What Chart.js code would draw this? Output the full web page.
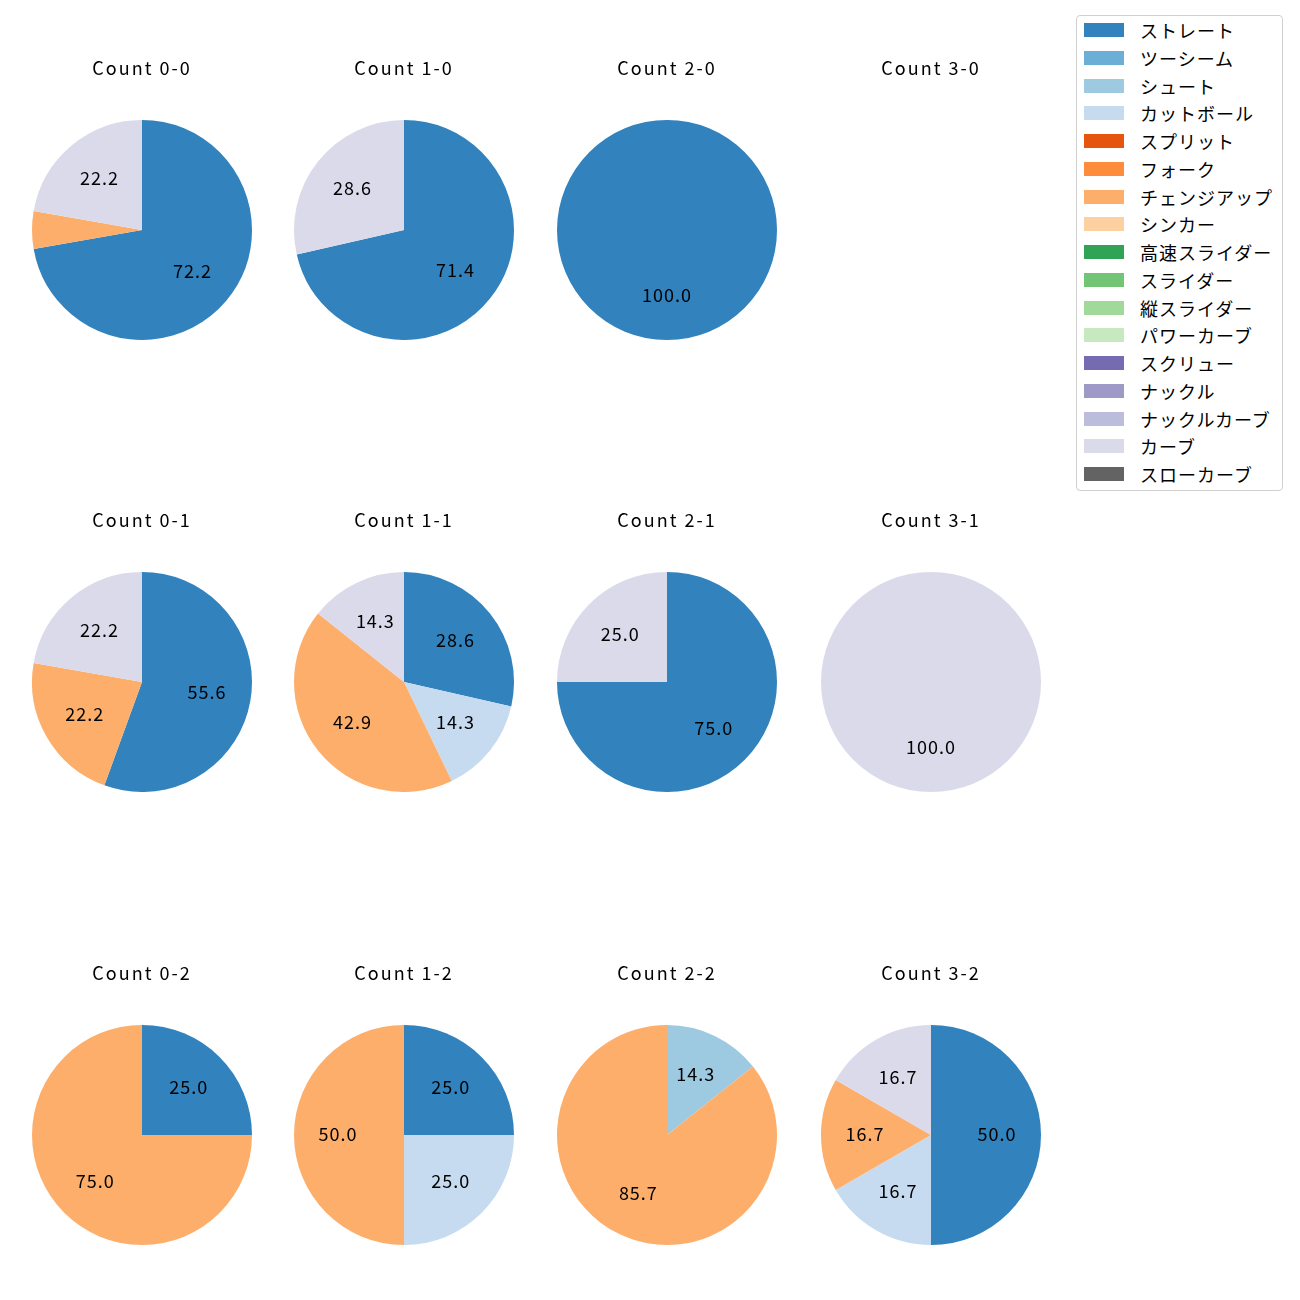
<!DOCTYPE html>
<html>
<head>
<meta charset="utf-8">
<script src="https://cdn.jsdelivr.net/npm/chart.js@4.4.1/dist/chart.umd.min.js"></script>
<style>
  html, body { margin: 0; padding: 0; background: #fff; }
  body { width: 1300px; height: 1300px; position: relative; overflow: hidden;
         font-family: "Noto Sans CJK JP", "Noto Sans", sans-serif; }
  .cell { position: absolute; }
  #legend { position: absolute; left: 1076px; top: 15px; width: 205px; height: 474px;
            border: 1px solid #d0d0d0; border-radius: 4px; background: #fff; }
  .item { position: absolute; left: 0; height: 20px; }
  .patch { position: absolute; left: 7px; width: 40px; height: 14px; }
  .lab { position: absolute; left: 63px; top: -1px; font-size: 18px; line-height: 22px; letter-spacing: 1px; color: #000; white-space: nowrap; }
</style>
</head>
<body>
<div id="legend"></div>
<script>
// ---- data ----
const pitchTypes = ["ストレート","ツーシーム","シュート","カットボール","スプリット","フォーク","チェンジアップ","シンカー","高速スライダー","スライダー","縦スライダー","パワーカーブ","スクリュー","ナックル","ナックルカーブ","カーブ","スローカーブ"];
const pitchColors = ["#3182bd","#6baed6","#9ecae1","#c6dbef","#e6550d","#fd8d3c","#fdae6b","#fdd0a2","#31a354","#74c476","#a1d99b","#c7e9c0","#756bb1","#9e9ac8","#bcbddc","#dadaeb","#636363"];
const countTitles = ["Count 0-0","Count 1-0","Count 2-0","Count 3-0",
                     "Count 0-1","Count 1-1","Count 2-1","Count 3-1",
                     "Count 0-2","Count 1-2","Count 2-2","Count 3-2"];
// pitch counts per count situation, in pitchTypes order
const c00 = [13,0,0,0,0,0,1,0,0,0,0,0,0,0,0,4,0];
const c10 = [5,0,0,0,0,0,0,0,0,0,0,0,0,0,0,2,0];
const c20 = [1,0,0,0,0,0,0,0,0,0,0,0,0,0,0,0,0];
const c30 = [0,0,0,0,0,0,0,0,0,0,0,0,0,0,0,0,0];
const c01 = [5,0,0,0,0,0,2,0,0,0,0,0,0,0,0,2,0];
const c11 = [2,0,0,1,0,0,3,0,0,0,0,0,0,0,0,1,0];
const c21 = [3,0,0,0,0,0,0,0,0,0,0,0,0,0,0,1,0];
const c31 = [0,0,0,0,0,0,0,0,0,0,0,0,0,0,0,1,0];
const c02 = [1,0,0,0,0,0,3,0,0,0,0,0,0,0,0,0,0];
const c12 = [1,0,0,1,0,0,2,0,0,0,0,0,0,0,0,0,0];
const c22 = [0,0,1,0,0,0,6,0,0,0,0,0,0,0,0,0,0];
const c32 = [3,0,0,1,0,0,1,0,0,0,0,0,0,0,0,1,0];
const allCounts = [c00,c10,c20,c30,c01,c11,c21,c31,c02,c12,c22,c32];

// ---- layout ----
const colX = [141.5, 404, 667, 930.5];
const rowY = [229.5, 682, 1135];
const R = 110;
const FONT = '"Noto Sans CJK JP", "Noto Sans", sans-serif';

const spacing = {
  id: 'spacing',
  beforeDraw(chart) { chart.ctx.letterSpacing = '2px'; }
};

const pctLabels = {
  id: 'pctLabels',
  afterDatasetsDraw(chart) {
    const ctx = chart.ctx;
    const data = chart.data.datasets[0].data;
    const total = data.reduce((a, b) => a + b, 0);
    if (!total) return;
    const meta = chart.getDatasetMeta(0);
    ctx.save();
    ctx.letterSpacing = '1px';
    ctx.font = '18px ' + FONT;
    ctx.fillStyle = '#000';
    ctx.textAlign = 'center';
    ctx.textBaseline = 'middle';
    meta.data.forEach((arc, i) => {
      const pct = data[i] / total * 100;
      if (pct < 10) return;
      const p = arc.getProps(['x','y','startAngle','endAngle','outerRadius'], true);
      const mid = (p.startAngle + p.endAngle) / 2;
      const r = p.outerRadius * 0.6;
      ctx.fillText(pct.toFixed(1), p.x + Math.cos(mid) * r, p.y + Math.sin(mid) * r - 1);
    });
    ctx.restore();
  }
};

const W = 262, H = 284;
allCounts.forEach((vals, k) => {
  const row = Math.floor(k / 4), col = k % 4;
  const div = document.createElement('div');
  div.className = 'cell';
  div.style.left = (colX[col] - W / 2) + 'px';
  div.style.top = (rowY[row] + R - H) + 'px';
  div.style.width = W + 'px';
  div.style.height = H + 'px';
  const cv = document.createElement('canvas');
  cv.width = W; cv.height = H;
  cv.style.width = W + 'px'; cv.style.height = H + 'px';
  div.appendChild(cv);
  document.body.appendChild(div);
  new Chart(cv, {
    type: 'pie',
    data: {
      labels: pitchTypes,
      datasets: [{ data: vals, backgroundColor: pitchColors, borderWidth: 0 }]
    },
    options: {
      responsive: false,
      animation: false,
      layout: { padding: 0 },
      plugins: {
        legend: { display: false },
        tooltip: { enabled: false },
        title: {
          display: true,
          text: countTitles[k],
          color: '#000',
          font: { family: FONT, size: 18, weight: 'normal' },
          padding: { top: 1, bottom: 41.4 }
        }
      }
    },
    plugins: [spacing, pctLabels]
  });
});

// ---- legend ----
const lg = document.getElementById('legend');
pitchTypes.forEach((name, i) => {
  const it = document.createElement('div');
  it.className = 'item';
  const cy = 14 + 27.75 * i;
  it.style.top = (cy - 10) + 'px';
  it.innerHTML = '<div class="patch" style="top:3px;background:' + pitchColors[i] + '"></div><div class="lab">' + name + '</div>';
  lg.appendChild(it);
});
</script>
</body>
</html>
